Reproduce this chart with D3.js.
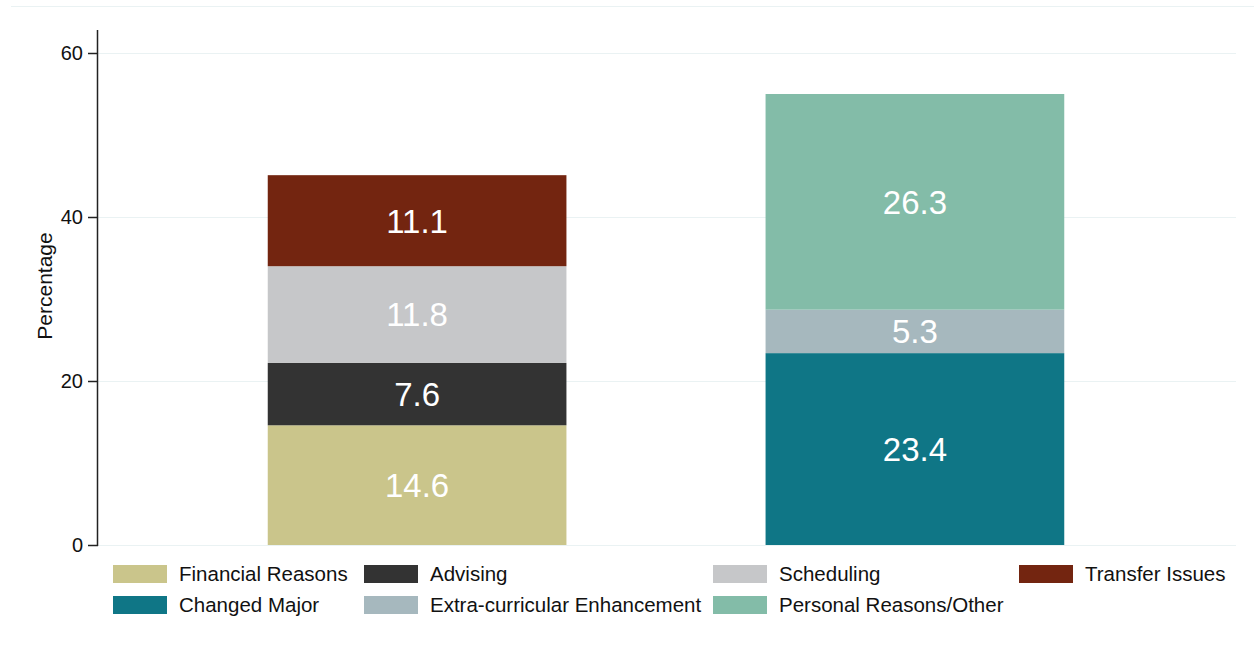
<!DOCTYPE html>
<html>
<head>
<meta charset="utf-8">
<script src="https://cdn.jsdelivr.net/npm/d3@7"></script>
<style>
  body { margin: 0; background: #fff; }
  svg { display: block; font-family: "Liberation Sans", Arial, sans-serif; }
</style>
</head>
<body>
<div id="chart"></div>
<script>
var width  = 1254;
var height = 651;

// data
var groups     = ["A", "B"];
var categories = ["Financial Reasons", "Advising", "Scheduling", "Transfer Issues",
                  "Changed Major", "Extra-curricular Enhancement", "Personal Reasons/Other"];
var colors     = ["#cac58b", "#333333", "#c6c7c9", "#732510",
                  "#0f7686", "#a6b8be", "#83bca8"];
var valuesA    = [14.6, 7.6, 11.8, 11.1, 0, 0, 0];
var valuesB    = [0, 0, 0, 0, 23.4, 5.3, 26.3];
var yTicks     = [0, 20, 40, 60];

var rows = groups.map(function(g, i){
  var r = {group: g};
  var vals = i === 0 ? valuesA : valuesB;
  categories.forEach(function(c, j){ r[c] = vals[j]; });
  return r;
});

var plot = {left: 98, right: 1236, top: 30, bottom: 545};

var svg = d3.select("#chart").append("svg")
  .attr("width", width)
  .attr("height", height);

var y = d3.scaleLinear().domain([0, 60]).range([plot.bottom, 53]);
var x = d3.scaleBand().domain(groups).range([96, plot.right])
  .paddingInner(0.4).paddingOuter(0.345);

// top border line
svg.append("line")
  .attr("x1", 11).attr("x2", width)
  .attr("y1", 6.5).attr("y2", 6.5)
  .attr("stroke", "#eaf2f3").attr("stroke-width", 1);

// gridlines
svg.append("g").selectAll("line")
  .data(yTicks)
  .enter().append("line")
  .attr("x1", plot.left).attr("x2", plot.right)
  .attr("y1", function(d){ return Math.round(y(d)) + 0.5; })
  .attr("y2", function(d){ return Math.round(y(d)) + 0.5; })
  .attr("stroke", "#eaf2f3").attr("stroke-width", 1);

// stacked bars
var stack = d3.stack().keys(categories)(rows);

var layers = svg.append("g").selectAll("g")
  .data(stack)
  .enter().append("g")
  .attr("fill", function(d, i){ return colors[i]; });

layers.selectAll("rect")
  .data(function(d){ return d.filter(function(s){ return s[1] - s[0] > 0; }); })
  .enter().append("rect")
  .attr("x", function(d){ return x(d.data.group); })
  .attr("width", x.bandwidth())
  .attr("y", function(d){ return y(d[1]); })
  .attr("height", function(d){ return y(d[0]) - y(d[1]); });

layers.selectAll("text")
  .data(function(d){ return d.filter(function(s){ return s[1] - s[0] > 0; }); })
  .enter().append("text")
  .attr("x", function(d){ return x(d.data.group) + x.bandwidth() / 2; })
  .attr("y", function(d){ return y((d[0] + d[1]) / 2); })
  .attr("dy", "0.36em")
  .attr("text-anchor", "middle")
  .attr("fill", "#ffffff")
  .style("font-size", "33px")
  .text(function(d){ return d3.format(".1f")(d[1] - d[0]); });

// y axis
var yAxis = svg.append("g")
  .attr("transform", "translate(" + plot.left + ",0)")
  .call(d3.axisLeft(y).tickValues(yTicks).tickSize(10).tickPadding(5));
yAxis.select(".domain").remove();
yAxis.selectAll(".tick line").attr("stroke", "#222").attr("stroke-width", 1.5);
yAxis.selectAll("text").style("font-size", "20px").attr("fill", "#111")
  .style("font-family", "'Liberation Sans', Arial, sans-serif");

svg.append("line")
  .attr("x1", plot.left - 0.5).attr("x2", plot.left - 0.5)
  .attr("y1", plot.top).attr("y2", plot.bottom + 1)
  .attr("stroke", "#222").attr("stroke-width", 1.5);

svg.append("text")
  .attr("transform", "translate(52," + 286 + ") rotate(-90)")
  .attr("text-anchor", "middle")
  .attr("fill", "#111")
  .style("font-size", "21px")
  .text("Percentage");

// legend
var legendCols = [113, 364, 713, 1019];
var legendRows = [574, 605];

var legend = svg.append("g").selectAll("g")
  .data(categories)
  .enter().append("g")
  .attr("transform", function(d, i){
    return "translate(" + legendCols[i % 4] + "," + legendRows[Math.floor(i / 4)] + ")";
  });

legend.append("rect")
  .attr("x", 0).attr("y", -9)
  .attr("width", 54).attr("height", 18)
  .attr("fill", function(d, i){ return colors[i]; });

legend.append("text")
  .attr("x", 66).attr("y", 0)
  .attr("dy", "0.36em")
  .attr("fill", "#111")
  .style("font-size", "20.5px")
  .text(function(d){ return d; });
</script>
</body>
</html>
